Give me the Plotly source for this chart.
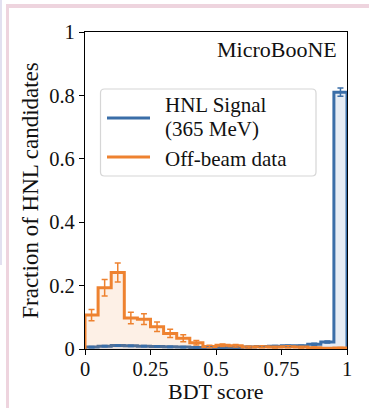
import plotly.graph_objects as go

# ---- data ----
bin_edges = [round(i * 0.05, 2) for i in range(21)]
bin_centers = [round(0.025 + i * 0.05, 3) for i in range(20)]
signal_frac = [0.006, 0.009, 0.011, 0.010, 0.009, 0.008, 0.007, 0.006, 0.005, 0.004,
               0.004, 0.005, 0.006, 0.008, 0.009, 0.010, 0.010, 0.015, 0.022, 0.810]
signal_err = [0.002, 0.002, 0.002, 0.002, 0.002, 0.002, 0.002, 0.002, 0.002, 0.002,
              0.002, 0.002, 0.002, 0.002, 0.002, 0.002, 0.002, 0.003, 0.003, 0.013]
offbeam_frac = [0.107, 0.193, 0.241, 0.098, 0.094, 0.070, 0.049, 0.034, 0.020, 0.008,
                0.012, 0.010, 0.006, 0.007, 0.006, 0.007, 0.006, 0.004, 0.002, 0.003]
offbeam_err = [0.018, 0.026, 0.030, 0.018, 0.017, 0.015, 0.013, 0.011, 0.007, 0.004,
               0.004, 0.004, 0.003, 0.003, 0.003, 0.003, 0.003, 0.002, 0.002, 0.002]
x_ticks = [0, 0.25, 0.5, 0.75, 1]
x_ticktext = ["0", "0.25", "0.5", "0.75", "1"]
y_ticks = [0, 0.2, 0.4, 0.6, 0.8, 1]
y_ticktext = ["0", "0.2", "0.4", "0.6", "0.8", "1"]
x_title = "BDT score"
y_title = "Fraction of HNL candidates"
signal_label = ["HNL Signal", "(365 MeV)"]
offbeam_label = "Off-beam data"

BLUE = "#3a6ea8"
ORANGE = "#ee8230"
FONT = "Liberation Serif"

W, H = 369, 408
L, R, T, B = 85, 347, 32, 349


def px2x(px):
    return (px - L) / (R - L)


def py2y(py):
    return (B - py) / (B - T)


def step_xy(vals):
    xs = [bin_edges[0]] + bin_edges + [bin_edges[-1]]
    ys = [0] + list(vals) + [vals[-1], 0]
    return xs, ys


fig = go.Figure()

sx, sy = step_xy(signal_frac)
fig.add_trace(go.Scatter(x=sx, y=sy, mode="lines", line=dict(shape="hv", color=BLUE, width=3),
                         fill="tozeroy", fillcolor="rgba(58,110,168,0.13)",
                         name="HNL Signal (365 MeV)", showlegend=False))
ox, oy = step_xy(offbeam_frac)
fig.add_trace(go.Scatter(x=ox, y=oy, mode="lines", line=dict(shape="hv", color=ORANGE, width=3),
                         fill="tozeroy", fillcolor="rgba(238,130,48,0.12)",
                         name="Off-beam data", showlegend=False))
fig.add_trace(go.Scatter(x=bin_centers, y=signal_frac, mode="markers", marker=dict(size=1, color=BLUE, opacity=0),
                         error_y=dict(type="data", array=signal_err, width=3, thickness=1.5, color=BLUE),
                         showlegend=False, hoverinfo="skip"))
fig.add_trace(go.Scatter(x=bin_centers, y=offbeam_frac, mode="markers", marker=dict(size=1, color=ORANGE, opacity=0),
                         error_y=dict(type="data", array=offbeam_err, width=3, thickness=1.5, color=ORANGE),
                         showlegend=False, hoverinfo="skip"))

axis_common = dict(showline=True, mirror=True, linecolor="black", linewidth=1.3,
                   ticks="outside", ticklen=5, tickwidth=1.3, tickcolor="black",
                   showgrid=False, zeroline=False, tickfont=dict(size=20.5, color="#111"),
                   automargin=False)

fig.update_layout(
    width=W, height=H,
    margin=dict(l=L, r=W - R, t=T, b=H - B),
    paper_bgcolor="white", plot_bgcolor="white",
    font=dict(family=FONT, color="#111"),
    xaxis=dict(range=[0, 1], tickvals=x_ticks, ticktext=x_ticktext, ticklabelstandoff=-4, **axis_common),
    yaxis=dict(range=[0, 1], tickvals=y_ticks, ticktext=y_ticktext,
               title=dict(text=y_title, font=dict(size=23), standoff=4), **axis_common),
    showlegend=False,
)

# x-axis title
fig.add_annotation(x=0.5, y=py2y(391), xref="paper", yref="paper", text=x_title, borderpad=0,
                   showarrow=False, xanchor="center", yanchor="middle", font=dict(size=22, color="#111"))

fig.add_annotation(x=px2x(339), y=py2y(50), xref="paper", yref="paper", text="MicroBooNE",
                   showarrow=False, xanchor="right", yanchor="middle", font=dict(size=22, color="#111"))

# legend (drawn manually to match the rounded box geometry)
bx0, bx1, by0, by1, rr = 100.5, 316, 89, 176, 4
path = (f"M{px2x(bx0 + rr)},{py2y(by0)} L{px2x(bx1 - rr)},{py2y(by0)} "
        f"Q{px2x(bx1)},{py2y(by0)} {px2x(bx1)},{py2y(by0 + rr)} "
        f"L{px2x(bx1)},{py2y(by1 - rr)} Q{px2x(bx1)},{py2y(by1)} {px2x(bx1 - rr)},{py2y(by1)} "
        f"L{px2x(bx0 + rr)},{py2y(by1)} Q{px2x(bx0)},{py2y(by1)} {px2x(bx0)},{py2y(by1 - rr)} "
        f"L{px2x(bx0)},{py2y(by0 + rr)} Q{px2x(bx0)},{py2y(by0)} {px2x(bx0 + rr)},{py2y(by0)} Z")
fig.add_shape(type="path", path=path, xref="paper", yref="paper",
              fillcolor="rgba(255,255,255,0.85)", line=dict(color="#d6d6d6", width=1.2))
fig.add_shape(type="line", xref="paper", yref="paper", x0=px2x(107), x1=px2x(150),
              y0=py2y(118), y1=py2y(118), line=dict(color=BLUE, width=3.2))
fig.add_shape(type="line", xref="paper", yref="paper", x0=px2x(107), x1=px2x(150),
              y0=py2y(157), y1=py2y(157), line=dict(color=ORANGE, width=3.2))
for txt, yy in [(signal_label[0], 104.5), (signal_label[1], 128.5), (offbeam_label, 158.5)]:
    fig.add_annotation(x=px2x(164), y=py2y(yy), xref="paper", yref="paper", text=txt, borderpad=0,
                       showarrow=False, xanchor="left", yanchor="middle", font=dict(size=21, color="#111"))

# page frame decorations
fig.add_shape(type="rect", xref="paper", yref="paper", x0=px2x(6), x1=px2x(369), y0=py2y(4), y1=py2y(8),
              fillcolor="#eed4de", line=dict(width=0), layer="below")
fig.add_shape(type="rect", xref="paper", yref="paper", x0=px2x(6), x1=px2x(9), y0=py2y(4), y1=py2y(408),
              fillcolor="#eed4de", line=dict(width=0), layer="below")
fig.add_shape(type="rect", xref="paper", yref="paper", x0=px2x(0), x1=px2x(2), y0=py2y(0), y1=py2y(265),
              fillcolor="#e2e0f0", line=dict(width=0), layer="below")

fig.write_html("out.html")
